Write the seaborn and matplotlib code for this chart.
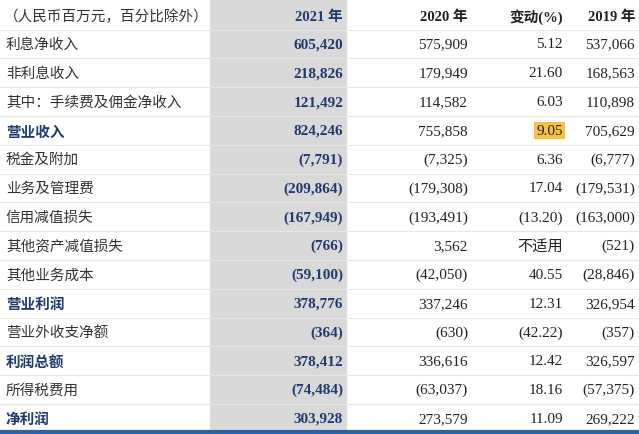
import matplotlib
matplotlib.use("Agg")
import matplotlib.pyplot as plt
import seaborn as sns

sns.set_theme(style="white")
plt.rcParams['font.family'] = ['Liberation Serif', 'Noto Sans CJK SC', 'DejaVu Sans']

header = ["（人民币百万元，百分比除外）", "2021 年", "2020 年", "变动(%)", "2019 年"]
items = ["利息净收入", "非利息收入", "其中：手续费及佣金净收入", "营业收入", "税金及附加",
         "业务及管理费", "信用减值损失", "其他资产减值损失", "其他业务成本", "营业利润",
         "营业外收支净额", "利润总额", "所得税费用", "净利润"]
y2021 = ["605,420", "218,826", "121,492", "824,246", "(7,791)", "(209,864)", "(167,949)",
         "(766)", "(59,100)", "378,776", "(364)", "378,412", "(74,484)", "303,928"]
y2020 = ["575,909", "179,949", "114,582", "755,858", "(7,325)", "(179,308)", "(193,491)",
         "3,562", "(42,050)", "337,246", "(630)", "336,616", "(63,037)", "273,579"]
change = ["5.12", "21.60", "6.03", "9.05", "6.36", "17.04", "(13.20)",
          "不适用", "40.55", "12.31", "(42.22)", "12.42", "18.16", "11.09"]
y2019 = ["537,066", "168,563", "110,898", "705,629", "(6,777)", "(179,531)", "(163,000)",
         "(521)", "(28,846)", "326,954", "(357)", "326,597", "(57,375)", "269,222"]
bold_rows = {"营业收入", "营业利润", "利润总额", "净利润"}

navy = "#1f3a6e"
grey_text = "#333333"

fig = plt.figure(figsize=(6.39, 4.35), dpi=100)
ax = fig.add_axes([0, 0, 1, 1])
ax.set_xlim(0, 639)
ax.set_ylim(435, 0)
ax.axis("off")

ax.axvspan(210, 346, color="#d9d9d9", zorder=0)
row_h = 28.8
first = 45
for i in range(len(items) + 1):
    ax.axhline(first - row_h / 2 + (i - 0) * row_h - 0, color="#e6e6e6", lw=0.8, zorder=1)
ax.axhline(433, color="#2e5fa8", lw=3, zorder=3)

col_right = [343, 468, 563, 635]
ax.text(4, 17, header[0], ha="left", va="center", fontsize=10.5, color=grey_text,
        family=['Noto Sans CJK SC'])
for j, h in enumerate(header[1:]):
    ax.text(col_right[j], 17, h, ha="right", va="center", fontsize=10.5, fontweight="bold",
            color=navy if j == 0 else "#222222")

for i, name in enumerate(items):
    y = first + i * row_h
    bold = name in bold_rows
    ax.text(6, y, name, ha="left", va="center", fontsize=10.5, family=['Noto Sans CJK SC'],
            fontweight="bold" if bold else "normal", color=navy if bold else grey_text)
    ax.text(col_right[0], y, y2021[i], ha="right", va="center", fontsize=11,
            fontweight="bold", color=navy)
    ax.text(col_right[1], y, y2020[i], ha="right", va="center", fontsize=11, color="#222222")
    kw = {}
    if name == "营业收入":
        kw["bbox"] = dict(boxstyle="square,pad=0.15", fc="#f5c242", ec="none")
    fam = ['Noto Sans CJK SC'] if change[i] == "不适用" else ['Liberation Serif']
    ax.text(col_right[2], y, change[i], ha="right", va="center", fontsize=11,
            color="#222222", family=fam, **kw)
    ax.text(col_right[3], y, y2019[i], ha="right", va="center", fontsize=11, color="#222222")

fig.savefig("out.png", dpi=100)
